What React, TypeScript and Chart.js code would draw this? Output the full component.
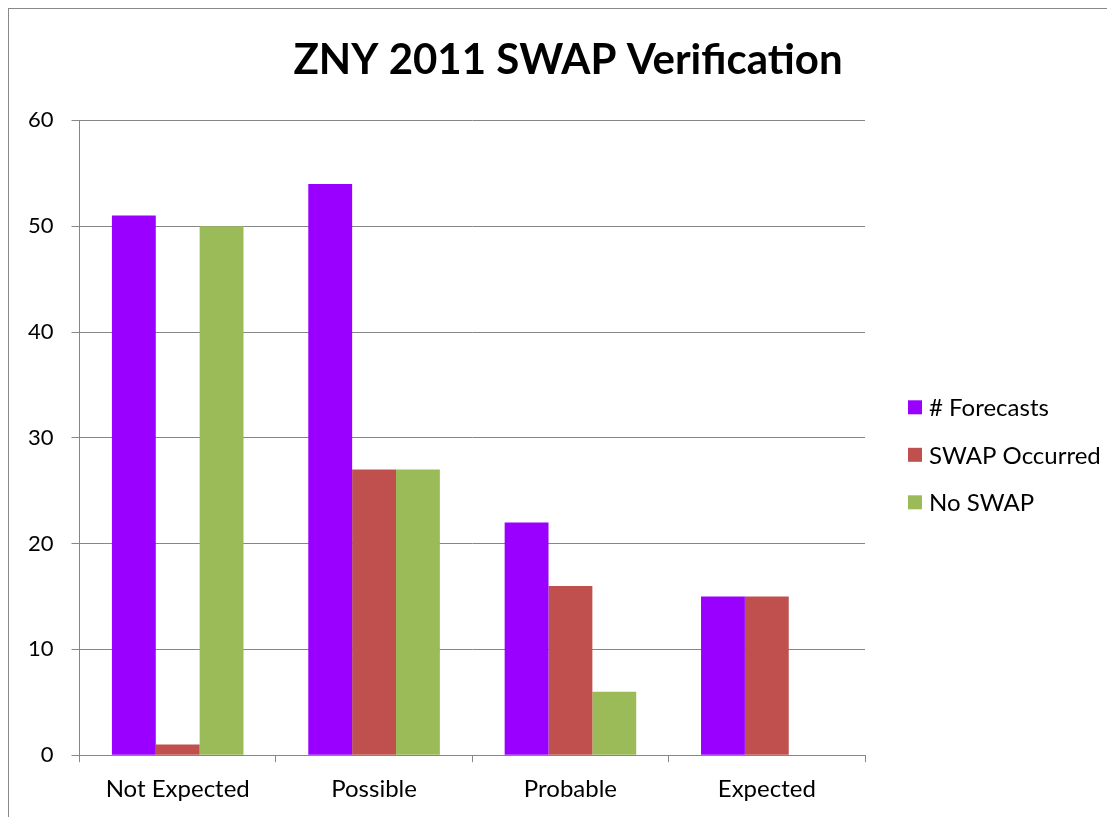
import React, { useEffect, useRef } from "react";
import { Chart, registerables } from "chart.js";

Chart.register(...registerables);

const title = "ZNY 2011 SWAP Verification";
const categories = ["Not Expected", "Possible", "Probable", "Expected"];
const forecasts = [51, 54, 22, 15];
const swapOccurred = [1, 27, 16, 15];
const noSwap = [50, 27, 6, 0];
const seriesNames = ["# Forecasts", "SWAP Occurred", "No SWAP"];
const colors = ["#9900FF", "#C0504D", "#9BBB59"];

const FONT = "Lato, 'Open Sans', sans-serif";
const GRID = "#868686";

const sideLegend = {
  id: "sideLegend",
  afterDraw(chart: any) {
    const { ctx, chartArea } = chart;
    const items = chart.data.datasets;
    const spacing = 47.5;
    const mid = (chartArea.top + chartArea.bottom) / 2 + 17;
    const x0 = chartArea.left + chartArea.width + 43;
    ctx.save();
    ctx.font = `24px ${FONT}`;
    ctx.textBaseline = "middle";
    ctx.textAlign = "left";
    items.forEach((ds: any, i: number) => {
      const cy = mid + (i - (items.length - 1) / 2) * spacing;
      ctx.fillStyle = ds.backgroundColor;
      ctx.fillRect(x0, cy - 7, 14, 14);
      ctx.fillStyle = "#000";
      ctx.fillText(ds.label, x0 + 21, cy + 1);
    });
    ctx.restore();
  },
};

export default function App() {
  const ref = useRef<HTMLCanvasElement>(null);
  useEffect(() => {
    document.body.style.overflow = "hidden";
    const ctx = ref.current!;
    const series = [forecasts, swapOccurred, noSwap];
    const chart = new Chart(ctx, {
      type: "bar",
      data: {
        labels: categories,
        datasets: series.map((d, i) => ({
          label: seriesNames[i],
          data: d,
          backgroundColor: colors[i],
          borderWidth: 0,
          categoryPercentage: 0.67,
          barPercentage: 1.0,
        })),
      },
      options: {
        animation: false,
        responsive: true,
        maintainAspectRatio: false,
        layout: { padding: { left: 13, right: 0, bottom: 0, top: 0 } },
        plugins: {
          title: {
            display: true,
            text: title,
            color: "#000",
            font: { family: FONT, size: 42, weight: "bold" },
            padding: { top: 26, bottom: 35 },
          },
          legend: { display: false },
          tooltip: { enabled: false },
        },
        scales: {
          x: {
            offset: true,
            grid: {
              offset: true,
              drawOnChartArea: false,
              drawTicks: true,
              tickLength: 7,
              color: GRID,
            },
            border: { display: true, color: GRID },
            ticks: {
              color: "#000",
              font: { family: FONT, size: 24 },
              padding: 13,
              maxRotation: 0,
            },
          },
          y: {
            min: 0,
            max: 60,
            ticks: {
              stepSize: 10,
              color: "#000",
              font: { family: FONT, size: 22 },
              padding: 18,
            },
            grid: { color: GRID, tickLength: 8, drawTicks: true },
            border: { display: true, color: GRID },
            afterFit: (s: any) => {
              s.width = s.width - 12;
            },
          },
          spacer: {
            type: "linear",
            position: "right",
            display: true,
            grid: { display: false, drawTicks: false },
            border: { display: false },
            ticks: { display: false },
            afterFit: (s: any) => {
              s.width = 249;
            },
          },
        },
      } as any,
      plugins: [sideLegend],
    });
    return () => chart.destroy();
  }, []);
  return (
    <div
      style={{
        position: "relative",
        width: 1106,
        height: 809,
        boxSizing: "border-box",
        borderLeft: "1px solid #888",
        borderTop: "1px solid #888",
        background: "#fff",
      }}
    >
      <canvas ref={ref} />
    </div>
  );
}
